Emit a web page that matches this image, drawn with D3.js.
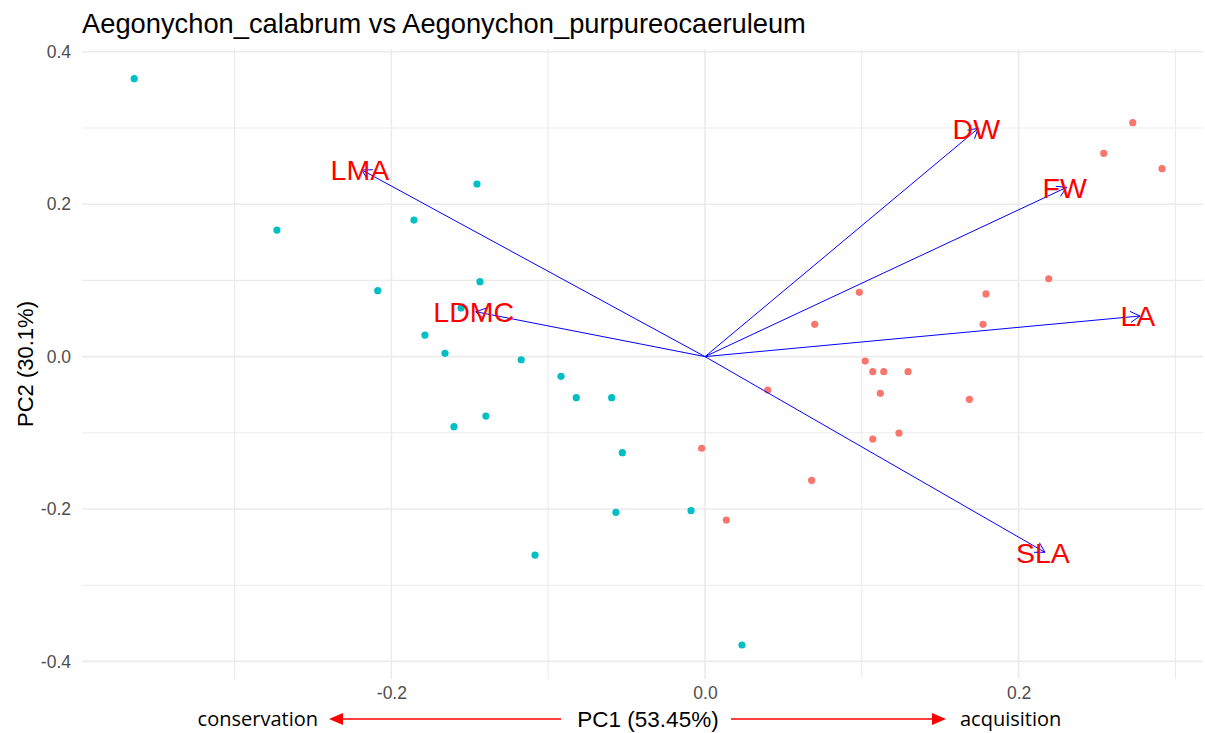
<!DOCTYPE html>
<html>
<head>
<meta charset="utf-8">
<script src="https://cdn.jsdelivr.net/npm/d3@7"></script>
<style>
  body { margin: 0; background: #fff; }
  text { font-family: "Liberation Sans", Arial, sans-serif; }
</style>
</head>
<body>
<div id="chart"></div>
<script>
// PCA scores, group 1 (teal)
const tealX = [-0.3640, -0.2730, -0.1856, -0.1454, -0.2087, -0.1435, -0.1556, -0.1786, -0.1658, -0.1172,
               -0.0918, -0.0821, -0.0595, -0.1397, -0.1601, -0.0527, -0.0568, -0.0089, -0.1084, 0.0236];
const tealY = [0.3647, 0.1661, 0.1792, 0.2265, 0.0865, 0.0983, 0.0638, 0.0283, 0.0043, -0.0041,
               -0.0259, -0.0539, -0.0539, -0.0780, -0.0920, -0.1261, -0.2043, -0.2022, -0.2604, -0.3785];
// PCA scores, group 2 (red)
const redX = [0.2192, 0.1792, 0.0984, 0.0700, 0.1773, 0.1022, 0.1070, 0.1140, 0.1295, 0.0400,
              0.1118, 0.1686, 0.1237, 0.1070, -0.0021, 0.0680, 0.0136, 0.2728, 0.2543, 0.2915];
const redY = [0.1022, 0.0822, 0.0844, 0.0424, 0.0424, -0.0058, -0.0198, -0.0198, -0.0198, -0.0438,
              -0.0482, -0.0560, -0.1003, -0.1081, -0.1203, -0.1623, -0.2144, 0.3070, 0.2668, 0.2466];
// trait loadings (arrows)
const traits = ["DW", "FW", "LA", "SLA", "LDMC", "LMA"];
const loadX = [0.1743, 0.2307, 0.2774, 0.2168, -0.1462, -0.2188];
const loadY = [0.2996, 0.2222, 0.0533, -0.2568, 0.0589, 0.2449];

const xTicks = [-0.2, 0.0, 0.2];
const xMinor = [-0.3, -0.1, 0.1, 0.3];
const yTicks = [-0.4, -0.2, 0.0, 0.2, 0.4];
const yMinor = [-0.3, -0.1, 0.1, 0.3];

const W = 1205, H = 733;
const panel = { left: 82, right: 1203, top: 49, bottom: 679 };

const svg = d3.select("#chart").append("svg")
    .attr("width", W)
    .attr("height", H);

const x = d3.scaleLinear().domain([-0.3973, 0.3176]).range([panel.left, panel.right]);
const y = d3.scaleLinear().domain([-0.4231, 0.4037]).range([panel.bottom, panel.top]);

const fmt = d => d3.format(".1f")(d).replace("\u2212", "-");

// grid
const grid = svg.append("g");
grid.selectAll(".vminor").data(xMinor).enter().append("line")
    .attr("x1", d => x(d)).attr("x2", d => x(d))
    .attr("y1", panel.top).attr("y2", panel.bottom)
    .attr("stroke", "#ebebeb").attr("stroke-width", 1.1);
grid.selectAll(".hminor").data(yMinor).enter().append("line")
    .attr("x1", panel.left).attr("x2", panel.right)
    .attr("y1", d => y(d)).attr("y2", d => y(d))
    .attr("stroke", "#ebebeb").attr("stroke-width", 1.1);
grid.selectAll(".vmajor").data(xTicks).enter().append("line")
    .attr("x1", d => x(d)).attr("x2", d => x(d))
    .attr("y1", panel.top).attr("y2", panel.bottom)
    .attr("stroke", "#ebebeb").attr("stroke-width", 1.6);
grid.selectAll(".hmajor").data(yTicks).enter().append("line")
    .attr("x1", panel.left).attr("x2", panel.right)
    .attr("y1", d => y(d)).attr("y2", d => y(d))
    .attr("stroke", "#ebebeb").attr("stroke-width", 1.6);

// axes (labels only)
const xAxis = svg.append("g")
    .attr("transform", `translate(0, ${panel.bottom})`)
    .call(d3.axisBottom(x).tickValues(xTicks).tickFormat(fmt).tickSize(0).tickPadding(8));
const yAxis = svg.append("g")
    .attr("transform", `translate(${panel.left}, 0)`)
    .call(d3.axisLeft(y).tickValues(yTicks).tickFormat(fmt).tickSize(0).tickPadding(11));
[xAxis, yAxis].forEach(a => {
  a.select(".domain").remove();
  a.selectAll("text")
    .attr("fill", "#4d4d4d")
    .style("font-size", "17.5px")
    .style("font-family", "'Liberation Sans', Arial, sans-serif");
});

// points
svg.selectAll(".teal").data(tealX).enter().append("circle")
    .attr("cx", d => x(d))
    .attr("cy", (d, i) => y(tealY[i]))
    .attr("r", 3.6)
    .attr("fill", "#00BFC4");
svg.selectAll(".red").data(redX).enter().append("circle")
    .attr("cx", d => x(d))
    .attr("cy", (d, i) => y(redY[i]))
    .attr("r", 3.6)
    .attr("fill", "#F8766D");

// loading arrows
const arrows = svg.append("g");
traits.forEach((t, i) => {
  const x0 = x(0), y0 = y(0), x1 = x(loadX[i]), y1 = y(loadY[i]);
  const ang = Math.atan2(y1 - y0, x1 - x0);
  const len = 11, spread = Math.PI / 6;
  arrows.append("line")
      .attr("x1", x0).attr("y1", y0).attr("x2", x1).attr("y2", y1)
      .attr("stroke", "blue").attr("stroke-width", 1);
  arrows.append("path")
      .attr("d", `M${x1 - len * Math.cos(ang - spread)},${y1 - len * Math.sin(ang - spread)}L${x1},${y1}L${x1 - len * Math.cos(ang + spread)},${y1 - len * Math.sin(ang + spread)}`)
      .attr("fill", "none").attr("stroke", "blue").attr("stroke-width", 1);
});
svg.selectAll(".trait").data(traits).enter().append("text")
    .attr("x", (d, i) => x(loadX[i]) - 2)
    .attr("y", (d, i) => y(loadY[i]))
    .attr("dy", "0.36em")
    .attr("text-anchor", "middle")
    .attr("fill", "red")
    .style("font-size", "28.5px")
    .text(d => d);

// title
svg.append("text")
    .attr("x", panel.left)
    .attr("y", 33)
    .attr("fill", "black")
    .style("font-size", "27.3px")
    .text("Aegonychon_calabrum vs Aegonychon_purpureocaeruleum");

// axis titles
svg.append("text")
    .attr("transform", `translate(25, ${(panel.top + panel.bottom) / 2}) rotate(-90)`)
    .attr("text-anchor", "middle")
    .attr("dy", "0.36em")
    .attr("fill", "black")
    .style("font-size", "22px")
    .text("PC2 (30.1%)");
svg.append("text")
    .attr("x", 648)
    .attr("y", 719)
    .attr("dy", "0.36em")
    .attr("text-anchor", "middle")
    .attr("fill", "black")
    .style("font-size", "22.5px")
    .text("PC1 (53.45%)");

// direction annotations
const ann = svg.append("g");
ann.append("line").attr("x1", 561).attr("x2", 340).attr("y1", 719).attr("y2", 719)
    .attr("stroke", "red").attr("stroke-width", 1.5);
ann.append("path").attr("d", "M329,719L343,713L343,725Z").attr("fill", "red");
ann.append("line").attr("x1", 731).attr("x2", 934).attr("y1", 719).attr("y2", 719)
    .attr("stroke", "red").attr("stroke-width", 1.5);
ann.append("path").attr("d", "M946,719L932,713L932,725Z").attr("fill", "red");
ann.append("text").attr("x", 318).attr("y", 719).attr("dy", "0.36em")
    .attr("text-anchor", "end")
    .style("font-family", "'Open Sans', 'Noto Sans', sans-serif")
    .style("font-size", "20px")
    .attr("fill", "black")
    .text("conservation");
ann.append("text").attr("x", 960).attr("y", 719).attr("dy", "0.36em")
    .style("font-family", "'Open Sans', 'Noto Sans', sans-serif")
    .style("font-size", "20px")
    .attr("fill", "black")
    .text("acquisition");
</script>
</body>
</html>
